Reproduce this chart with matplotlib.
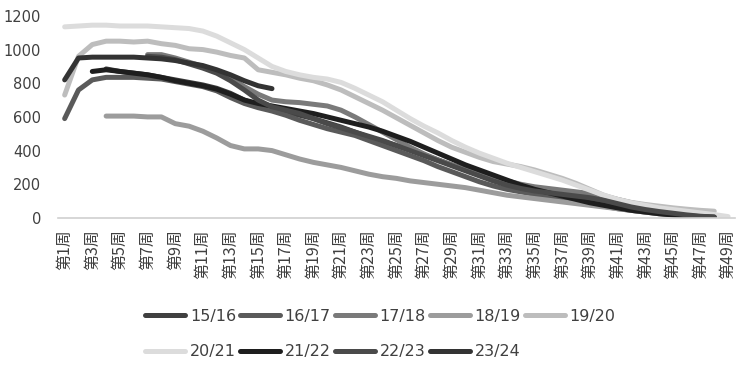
import matplotlib
matplotlib.use("Agg")
import matplotlib.pyplot as plt
import numpy as np

plt.rcParams['font.family'] = ['DejaVu Sans', 'Noto Sans CJK SC']

weeks = [f"第{i}周" for i in range(1, 50)]

# each series: (start week, values)
s1516 = (4, [885, 870, 860, 850, 835, 820, 805, 790, 770, 740, 700, 670, 650, 630, 610, 590,
             565, 540, 510, 480, 455, 430, 405, 375, 345, 315, 285, 255, 230, 205, 185, 165,
             145, 125, 110, 95, 80, 65, 50, 40, 30, 22, 15, 10, 5])
s1617 = (1, [590, 760, 820, 835, 835, 835, 830, 825, 810, 795, 780, 755, 715, 680, 655, 635,
             610, 580, 555, 530, 510, 490, 460, 430, 400, 370, 340, 305, 275, 245, 215, 190,
             170, 155, 140, 130, 115, 100, 85, 70, 55, 45, 35, 25, 18, 12, 8, 5])
s1718 = (7, [970, 970, 950, 925, 900, 870, 830, 780, 735, 700, 690, 685, 675, 665, 640, 600,
             555, 510, 465, 420, 380, 345, 315, 290, 265, 240, 220, 200, 185, 175, 165, 155,
             145, 130, 110, 90, 75, 60, 48, 38, 28, 18])
s1819 = (4, [605, 605, 605, 600, 600, 560, 545, 515, 475, 430, 410, 410, 400, 375, 350, 330,
             315, 300, 280, 260, 245, 235, 220, 210, 200, 190, 180, 165, 150, 135, 125, 115,
             105, 95, 85, 75, 65, 55, 45, 35, 28, 22, 15, 10, 5])
s1920 = (1, [730, 960, 1030, 1050, 1050, 1045, 1050, 1035, 1025, 1005, 1000, 985, 965, 950, 880,
             865, 850, 830, 815, 790, 760, 720, 680, 640, 595, 550, 505, 460, 420, 390, 360,
             335, 320, 305, 285, 260, 235, 205, 170, 135, 110, 92, 80, 70, 60, 52, 45, 40])
s2021 = (1, [1135, 1140, 1145, 1145, 1140, 1140, 1140, 1135, 1130, 1125, 1110, 1080, 1040, 1000,
             950, 900, 870, 850, 835, 825, 805, 770, 730, 690, 640, 590, 545, 505, 460, 420,
             385, 355, 325, 300, 275, 250, 225, 195, 165, 135, 110, 90, 75, 60, 50, 40, 30,
             20, 8])
s2122 = (3, [870, 880, 870, 860, 850, 835, 815, 800, 785, 765, 735, 700, 680, 665, 650, 635,
             620, 600, 580, 560, 540, 515, 485, 455, 420, 385, 350, 315, 285, 255, 225, 195,
             170, 150, 130, 110, 90, 75, 60, 45, 35, 25, 18, 12, 8, 5])
s2223 = (7, [960, 955, 940, 915, 890, 860, 815, 760, 700, 660, 640, 620, 590, 560, 535, 510,
             485, 460, 430, 400, 370, 340, 310, 280, 250, 220, 195, 175, 160, 150, 140, 130,
             120, 105, 85, 65, 50, 38, 28, 18, 10, 5])
s2324 = (1, [820, 950, 955, 955, 955, 955, 950, 945, 935, 920, 905, 880, 850, 815, 785, 768])

labels = ["15/16", "16/17", "17/18", "18/19", "19/20", "20/21", "21/22", "22/23", "23/24"]
series = [s1516, s1617, s1718, s1819, s1920, s2021, s2122, s2223, s2324]
colors = ["#404040", "#5a5a5a", "#7a7a7a", "#9c9c9c", "#bdbdbd", "#dcdcdc",
          "#1e1e1e", "#4a4a4a", "#333333"]

fig = plt.figure(figsize=(7.5, 3.7), dpi=100)
ax = fig.add_axes([0.077, 0.411, 0.903, 0.546])

handles = []
for lab, (start, vals), c in zip(labels, series, colors):
    x = np.arange(start - 1, start - 1 + len(vals))
    h, = ax.plot(x, vals, color=c, lw=3.6, solid_capstyle='round',
                 solid_joinstyle='round', label=lab)
    handles.append(h)

ax.set_xlim(-0.5, 48.5)
ax.set_ylim(0, 1200)
ax.set_yticks(range(0, 1201, 200))
ax.set_xticks(range(0, 49, 2))
ax.set_xticklabels(weeks[::2], rotation=90, fontsize=11.5,
                   family=['Noto Sans CJK SC', 'DejaVu Sans'], color='#404040')
ax.tick_params(axis='both', length=0)
ax.tick_params(axis='x', pad=8)
ax.tick_params(axis='y', pad=12, labelsize=10.5, labelcolor='#404040')
for sp in ['top', 'right', 'left']:
    ax.spines[sp].set_visible(False)
ax.spines['bottom'].set_color('#d0d0d0')
ax.spines['bottom'].set_linewidth(1.2)

order = [0, 5, 1, 6, 2, 7, 3, 8, 4]
leg = fig.legend([handles[i] for i in order], [labels[i] for i in order],
                 ncol=5, loc='center', bbox_to_anchor=(0.507, 0.097), frameon=False,
                 fontsize=11.5, handlelength=2.5, handletextpad=0.3,
                 columnspacing=0.25, labelspacing=1.3)
for t in leg.get_texts():
    t.set_color('#404040')

fig.savefig("out.png", dpi=100)
